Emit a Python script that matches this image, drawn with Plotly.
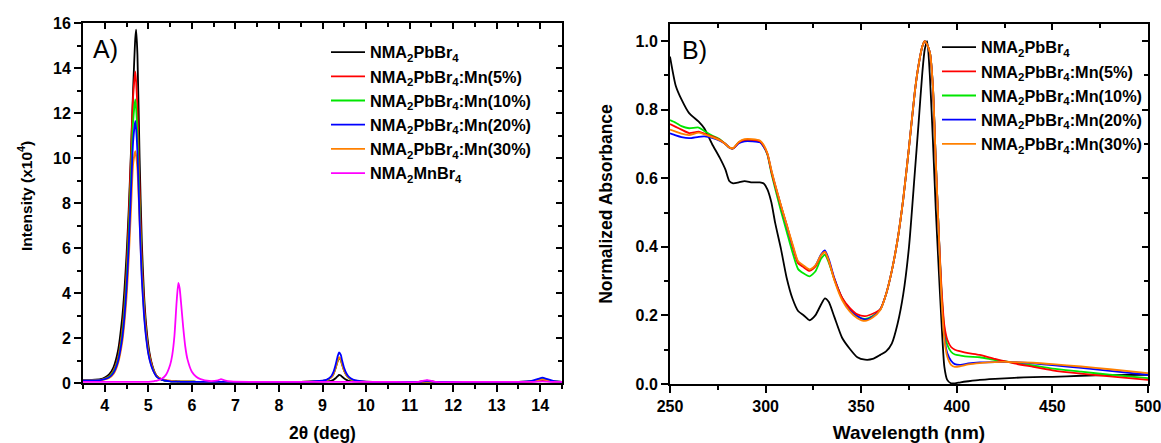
import plotly.graph_objects as go

# ---------------- Panel A: XRD ----------------
two_theta = [3.5, 3.7, 3.9, 4.0, 4.1, 4.2, 4.3, 4.4, 4.45, 4.5, 4.55, 4.6, 4.65, 4.7, 4.72, 4.75, 4.8, 4.85, 4.9, 4.95,
             5.0, 5.05, 5.1, 5.15, 5.2, 5.3, 5.4, 5.5,
             5.55, 5.6, 5.65, 5.69, 5.72, 5.75, 5.8, 5.85, 5.9, 6.0, 6.1, 6.2, 6.4, 6.6, 6.67, 6.75, 6.9, 7.5,
             8.5, 9.0, 9.1, 9.2, 9.25, 9.3, 9.35, 9.38, 9.42, 9.45, 9.5, 9.55, 9.6, 9.7, 9.8, 10.0, 10.5,
             11.2, 11.4, 11.6, 12.5,
             13.5, 13.8, 13.95, 14.05, 14.15, 14.3, 14.5]

xrd_pure = [0.13, 0.14, 0.17, 0.24, 0.38, 0.7, 1.4, 2.9, 4.1, 5.7, 7.7, 10.2, 13.0, 15.3, 15.7, 14.6, 10.0, 6.3, 4.0, 2.6,
            1.7, 1.1, 0.72, 0.45, 0.3, 0.15, 0.1, 0.08,
            0.07, 0.07, 0.07, 0.06, 0.06, 0.06, 0.06, 0.06, 0.06, 0.06, 0.05, 0.05, 0.05, 0.05, 0.05, 0.05, 0.05, 0.05,
            0.05, 0.06, 0.07, 0.1, 0.14, 0.21, 0.31, 0.36, 0.33, 0.28, 0.2, 0.14, 0.1, 0.07, 0.06, 0.05, 0.05,
            0.05, 0.06, 0.05, 0.05,
            0.05, 0.06, 0.08, 0.1, 0.08, 0.06, 0.05]

xrd_mn5 = [0.12, 0.12, 0.14, 0.2, 0.3, 0.55, 1.1, 2.35, 3.45, 5.0, 7.2, 10.0, 12.7, 13.85, 13.4, 12.2, 8.6, 5.5, 3.6, 2.35,
           1.5, 1.05, 0.7, 0.45, 0.3, 0.17, 0.11, 0.08,
           0.07, 0.07, 0.07, 0.06, 0.06, 0.06, 0.06, 0.06, 0.06, 0.06, 0.05, 0.05, 0.05, 0.05, 0.05, 0.05, 0.05, 0.05,
           0.05, 0.09, 0.13, 0.25, 0.39, 0.65, 0.97, 1.1, 1.01, 0.81, 0.53, 0.34, 0.23, 0.12, 0.08, 0.05, 0.05,
           0.05, 0.07, 0.05, 0.05,
           0.05, 0.07, 0.12, 0.15, 0.12, 0.07, 0.05]

xrd_mn10 = [0.12, 0.12, 0.14, 0.19, 0.28, 0.5, 1.0, 2.15, 3.15, 4.55, 6.55, 9.1, 11.6, 12.6, 12.2, 11.1, 7.8, 5.05, 3.3, 2.15,
            1.4, 0.95, 0.65, 0.42, 0.28, 0.16, 0.1, 0.08,
            0.07, 0.07, 0.07, 0.06, 0.06, 0.06, 0.06, 0.06, 0.06, 0.06, 0.05, 0.05, 0.05, 0.05, 0.05, 0.05, 0.05, 0.05,
            0.05, 0.09, 0.13, 0.26, 0.4, 0.67, 1.0, 1.13, 1.04, 0.83, 0.55, 0.35, 0.23, 0.12, 0.08, 0.05, 0.05,
            0.05, 0.07, 0.05, 0.05,
            0.05, 0.08, 0.14, 0.18, 0.14, 0.08, 0.05]

xrd_mn20 = [0.12, 0.12, 0.13, 0.17, 0.25, 0.45, 0.93, 1.98, 2.9, 4.2, 6.05, 8.4, 10.7, 11.65, 11.3, 10.25, 7.2, 4.65, 3.05, 2.0,
            1.3, 0.88, 0.6, 0.4, 0.26, 0.15, 0.1, 0.07,
            0.06, 0.06, 0.06, 0.06, 0.06, 0.05, 0.05, 0.05, 0.05, 0.05, 0.05, 0.05, 0.05, 0.05, 0.05, 0.05, 0.05, 0.05,
            0.05, 0.1, 0.15, 0.3, 0.48, 0.8, 1.2, 1.36, 1.25, 1.0, 0.65, 0.42, 0.28, 0.15, 0.1, 0.06, 0.05,
            0.05, 0.1, 0.05, 0.05,
            0.05, 0.09, 0.18, 0.24, 0.18, 0.09, 0.05]

xrd_mn30 = [0.12, 0.12, 0.13, 0.16, 0.22, 0.4, 0.85, 1.8, 2.65, 3.8, 5.5, 7.6, 9.7, 10.3, 10.1, 9.5, 7.2, 4.8, 3.2, 2.1,
            1.35, 0.92, 0.62, 0.42, 0.28, 0.17, 0.13, 0.1,
            0.09, 0.08, 0.07, 0.07, 0.06, 0.06, 0.06, 0.06, 0.06, 0.05, 0.05, 0.05, 0.05, 0.05, 0.05, 0.05, 0.05, 0.05,
            0.05, 0.09, 0.13, 0.26, 0.4, 0.68, 1.02, 1.15, 1.06, 0.85, 0.55, 0.36, 0.24, 0.13, 0.09, 0.06, 0.05,
            0.05, 0.06, 0.05, 0.05,
            0.05, 0.07, 0.12, 0.16, 0.12, 0.07, 0.05]

xrd_mnbr = [0.05, 0.05, 0.05, 0.05, 0.05, 0.05, 0.05, 0.05, 0.05, 0.05, 0.05, 0.05, 0.05, 0.05, 0.05, 0.05, 0.05, 0.05, 0.05, 0.05,
            0.05, 0.06, 0.07, 0.09, 0.11, 0.18, 0.35, 0.8,
            1.25, 2.1, 3.6, 4.45, 4.2, 3.6, 2.5, 1.6, 1.05, 0.5, 0.28, 0.17, 0.09, 0.12, 0.17, 0.12, 0.07, 0.05,
            0.05, 0.05, 0.05, 0.05, 0.05, 0.05, 0.05, 0.05, 0.05, 0.05, 0.05, 0.05, 0.05, 0.05, 0.05, 0.05, 0.05,
            0.05, 0.13, 0.05, 0.05,
            0.05, 0.05, 0.06, 0.07, 0.06, 0.05, 0.05]

# ---------------- Panel B: absorbance ----------------
wavelength = [250, 253, 256, 260, 265, 268, 272, 276, 279, 281,
              283, 286, 289, 293, 297, 299, 301, 303, 305, 308,
              311, 314, 317, 320, 323, 326, 329, 331, 333, 336,
              340, 344, 348, 352, 356, 360, 363, 366, 369, 372,
              375, 378, 380, 382, 383.2, 384.5, 386, 387.5, 389, 390.5,
              392, 393.5, 395, 397, 399, 402, 406, 412, 420, 430,
              440, 450, 465, 480, 500]

abs_pure = [0.955, 0.87, 0.83, 0.79, 0.765, 0.745, 0.70, 0.66, 0.625, 0.592,
            0.585, 0.588, 0.592, 0.588, 0.588, 0.585, 0.567, 0.53, 0.47, 0.395,
            0.31, 0.25, 0.213, 0.2, 0.186, 0.2, 0.232, 0.25, 0.24, 0.195,
            0.135, 0.103, 0.078, 0.071, 0.073, 0.085, 0.095, 0.118, 0.175, 0.262,
            0.40, 0.614, 0.76, 0.91, 0.975, 1.0, 0.89, 0.71, 0.51, 0.34,
            0.18, 0.05, 0.012, 0.002, 0.002, 0.005, 0.008, 0.012, 0.015, 0.018,
            0.02, 0.021, 0.024, 0.026, 0.027]

abs_mn5 = [0.758, 0.75, 0.742, 0.732, 0.736, 0.73, 0.722, 0.712, 0.70, 0.69,
           0.687, 0.705, 0.712, 0.712, 0.708, 0.695, 0.67, 0.62, 0.578, 0.52,
           0.465, 0.405, 0.352, 0.34, 0.33, 0.342, 0.375, 0.385, 0.36, 0.305,
           0.252, 0.222, 0.203, 0.198, 0.205, 0.218, 0.262, 0.33, 0.42, 0.54,
           0.69, 0.85, 0.93, 0.985, 1.0, 0.99, 0.965, 0.867, 0.65, 0.45,
           0.28, 0.17, 0.13, 0.108, 0.1, 0.095, 0.09, 0.085, 0.073, 0.06,
           0.05, 0.04, 0.03, 0.022, 0.012]

abs_mn10 = [0.77, 0.762, 0.752, 0.746, 0.748, 0.738, 0.725, 0.714, 0.70, 0.69,
            0.687, 0.705, 0.71, 0.71, 0.706, 0.693, 0.668, 0.615, 0.57, 0.505,
            0.445, 0.385, 0.335, 0.322, 0.314, 0.328, 0.365, 0.377, 0.355, 0.305,
            0.25, 0.218, 0.197, 0.19, 0.198, 0.218, 0.262, 0.33, 0.42, 0.54,
            0.69, 0.85, 0.93, 0.985, 1.0, 0.99, 0.965, 0.867, 0.65, 0.45,
            0.27, 0.16, 0.115, 0.094, 0.086, 0.083, 0.08, 0.078, 0.07, 0.062,
            0.054, 0.045, 0.036, 0.027, 0.017]

abs_mn20 = [0.731, 0.725, 0.72, 0.717, 0.721, 0.722, 0.718, 0.71, 0.70, 0.69,
            0.687, 0.702, 0.708, 0.708, 0.705, 0.692, 0.67, 0.622, 0.58, 0.52,
            0.462, 0.405, 0.355, 0.342, 0.332, 0.345, 0.378, 0.39, 0.365, 0.308,
            0.25, 0.218, 0.198, 0.188, 0.196, 0.218, 0.262, 0.33, 0.42, 0.54,
            0.69, 0.85, 0.93, 0.985, 1.0, 0.99, 0.965, 0.867, 0.65, 0.45,
            0.26, 0.14, 0.09, 0.068, 0.058, 0.056, 0.06, 0.063, 0.064, 0.064,
            0.06, 0.055, 0.047, 0.038, 0.027]

abs_mn30 = [0.742, 0.736, 0.73, 0.726, 0.733, 0.728, 0.72, 0.711, 0.70, 0.69,
            0.688, 0.706, 0.714, 0.714, 0.71, 0.697, 0.672, 0.625, 0.582, 0.522,
            0.465, 0.41, 0.358, 0.345, 0.334, 0.346, 0.375, 0.385, 0.36, 0.302,
            0.245, 0.212, 0.192, 0.184, 0.194, 0.216, 0.262, 0.33, 0.42, 0.54,
            0.69, 0.85, 0.93, 0.985, 1.0, 0.99, 0.965, 0.867, 0.65, 0.45,
            0.25, 0.13, 0.08, 0.056, 0.05, 0.052, 0.057, 0.061, 0.064, 0.064,
            0.062, 0.058, 0.051, 0.043, 0.032]

names = ["NMA<sub>2</sub>PbBr<sub>4</sub>",
         "NMA<sub>2</sub>PbBr<sub>4</sub>:Mn(5%)",
         "NMA<sub>2</sub>PbBr<sub>4</sub>:Mn(10%)",
         "NMA<sub>2</sub>PbBr<sub>4</sub>:Mn(20%)",
         "NMA<sub>2</sub>PbBr<sub>4</sub>:Mn(30%)",
         "NMA<sub>2</sub>MnBr<sub>4</sub>"]
colors = ["#000000", "#ff0000", "#00e600", "#0000ff", "#ff8000", "#ff00ff"]

FONT = "Liberation Sans, Arial, sans-serif"

fig = go.Figure()

xrd_series = [xrd_pure, xrd_mn5, xrd_mn10, xrd_mn20, xrd_mn30, xrd_mnbr]
for i in [0, 1, 2, 4, 3, 5]:
    fig.add_trace(go.Scatter(x=two_theta, y=xrd_series[i], mode="lines", name=names[i],
                             line=dict(color=colors[i], width=1.8, shape="spline", smoothing=0.6),
                             legend="legend", legendrank=i + 1, xaxis="x", yaxis="y"))

abs_series = [abs_pure, abs_mn5, abs_mn10, abs_mn20, abs_mn30]
for i in [0, 2, 3, 1, 4]:
    fig.add_trace(go.Scatter(x=wavelength, y=abs_series[i], mode="lines", name=names[i],
                             line=dict(color=colors[i], width=1.8, shape="spline", smoothing=0.6),
                             legend="legend2", legendrank=i + 1, xaxis="x2", yaxis="y2"))

# empty helper traces so the inside-tick (top/right) axes get drawn
for xa, ya in [("x3", "y"), ("x", "y3"), ("x4", "y2"), ("x2", "y4")]:
    fig.add_trace(go.Scatter(x=[], y=[], xaxis=xa, yaxis=ya, showlegend=False, hoverinfo="skip"))

tickfont = dict(family=FONT, size=16, color="black", weight="bold")

def tfont(size):
    return dict(family=FONT, size=size, color="black", weight="bold")

def main_axis(**kw):
    d = dict(showline=True, linewidth=2, linecolor="black", mirror=True,
             ticks="outside", ticklen=7, tickwidth=2, tickcolor="black",
             showgrid=False, zeroline=False, tickfont=tickfont, automargin=False,
             ticklabeloverflow="allow")
    d.update(kw)
    return d

def inside_axis(**kw):
    d = dict(showline=False, ticks="inside", ticklen=6, tickwidth=2, tickcolor="black",
             showgrid=False, zeroline=False, showticklabels=False, automargin=False)
    d.update(kw)
    return d

dom_x1 = [83 / 1161, 562 / 1161]
dom_x2 = [670 / 1161, 1148 / 1161]
dom_y1 = [1 - 383 / 443, 1 - 23 / 443]
dom_y2 = [1 - 384 / 443, 1 - 24 / 443]

fig.update_layout(
    width=1161, height=443,
    margin=dict(l=0, r=0, t=0, b=0, autoexpand=False),
    paper_bgcolor="white", plot_bgcolor="white",
    font=dict(family=FONT, color="black"),
    showlegend=True,
    xaxis=main_axis(domain=dom_x1, range=[3.5, 14.5], anchor="y", dtick=1, tick0=0,
                    minor=dict(ticks="outside", ticklen=4, tickwidth=1.5, dtick=0.5, tickcolor="black"),
                    title=dict(text="2θ (deg)", font=tfont(17.5), standoff=18)),
    yaxis=main_axis(domain=dom_y1, range=[0, 16], anchor="x", dtick=2, tick0=0,
                    minor=dict(ticks="outside", ticklen=4, tickwidth=1.5, dtick=1, tickcolor="black")),
    xaxis3=inside_axis(overlaying="x", side="top", anchor="y", range=[3.5, 14.5], dtick=1, tick0=0,
                       minor=dict(ticks="inside", ticklen=4, tickwidth=1.5, dtick=0.5, tickcolor="black")),
    yaxis3=inside_axis(overlaying="y", side="right", anchor="x", range=[0, 16], dtick=2, tick0=0,
                       minor=dict(ticks="inside", ticklen=4, tickwidth=1.5, dtick=1, tickcolor="black")),
    xaxis2=main_axis(domain=dom_x2, range=[250, 500], anchor="y2", dtick=50, tick0=0,
                     minor=dict(ticks="outside", ticklen=4, tickwidth=1.5, dtick=25, tickcolor="black"),
                     title=dict(text="Wavelength (nm)", font=tfont(19), standoff=16)),
    yaxis2=main_axis(domain=dom_y2, range=[0, 1.05], anchor="x2", dtick=0.2, tick0=0, tickformat=".1f",
                     minor=dict(ticks="outside", ticklen=4, tickwidth=1.5, dtick=0.1, tickcolor="black"),
                     title=dict(text="Normalized Absorbance", font=tfont(17.5), standoff=18)),
    xaxis4=inside_axis(overlaying="x2", side="top", anchor="y2", range=[250, 500], dtick=50, tick0=0,
                       minor=dict(ticks="inside", ticklen=4, tickwidth=1.5, dtick=25, tickcolor="black")),
    yaxis4=inside_axis(overlaying="y2", side="right", anchor="x2", range=[0, 1.05], dtick=0.2, tick0=0,
                       minor=dict(ticks="inside", ticklen=4, tickwidth=1.5, dtick=0.1, tickcolor="black")),
    legend=dict(x=326 / 1161, y=1 - 35 / 443, xanchor="left", yanchor="top",
                bgcolor="rgba(0,0,0,0)", borderwidth=0, tracegroupgap=0, itemwidth=34,
                font=tfont(16.3)),
    legend2=dict(x=937 / 1161, y=1 - 30 / 443, xanchor="left", yanchor="top",
                 bgcolor="rgba(0,0,0,0)", borderwidth=0, tracegroupgap=0, itemwidth=34,
                 font=tfont(16.3)),
    annotations=[
        dict(text="Intensity (x10<sup>4</sup>)", x=25 / 1161, y=1 - 196 / 443, xref="paper", yref="paper",
             showarrow=False, xanchor="center", yanchor="middle", textangle=-90,
             font=tfont(15.5)),
        dict(text="A)", x=105 / 1161, y=1 - 49 / 443, xref="paper", yref="paper",
             showarrow=False, xanchor="center", yanchor="middle",
             font=dict(family=FONT, size=25, color="black")),
        dict(text="B)", x=694 / 1161, y=1 - 50 / 443, xref="paper", yref="paper",
             showarrow=False, xanchor="center", yanchor="middle",
             font=dict(family=FONT, size=25, color="black")),
    ],
)

fig.write_html("out.html")
